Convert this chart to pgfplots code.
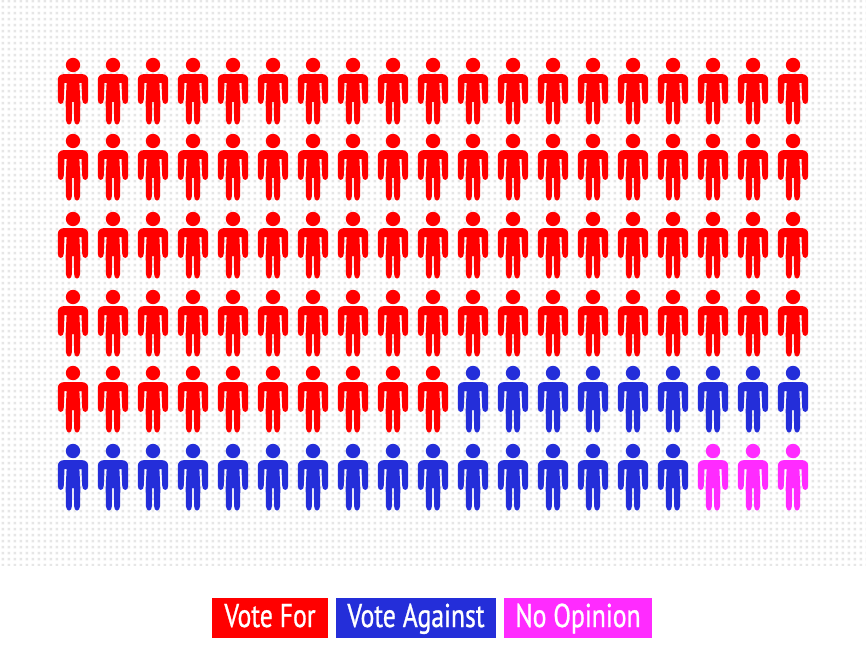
\documentclass[border=0pt]{standalone}
\usepackage{fontspec}
\setmainfont[FakeStretch=0.78,FakeBold=0.8]{PT Sans}
\usepackage{pgfplots}
\pgfplotsset{compat=1.18}
\usetikzlibrary{patterns}

\definecolor{VoteFor}{RGB}{255,0,0}
\definecolor{VoteAgainst}{RGB}{36,46,217}
\definecolor{NoOpinion}{RGB}{255,43,255}
\definecolor{DotGrey}{RGB}{230,230,230}

% background dots, 5.9px lattice
\pgfdeclarepatternformonly{bgdots}{\pgfqpoint{0pt}{0pt}}{\pgfqpoint{5.9pt}{5.9pt}}{\pgfqpoint{5.9pt}{5.9pt}}{
  \pgfpathrectangle{\pgfqpoint{1.7pt}{1.7pt}}{\pgfqpoint{2.5pt}{2.5pt}}
  \pgfusepathqfill
}

% pictogram person, origin at the centre of the head
\newcommand{\pp}[2]{\pgfqpoint{#1pt}{#2pt}}
\newcommand{\personhalf}{%
  \pgfpathmoveto{\pp{-0.3}{-9.2}}
  \pgfpathlineto{\pp{9.5}{-9.2}}
  \pgfpathcurveto{\pp{13}{-9.2}}{\pp{15.2}{-11.8}}{\pp{15.2}{-15}}
  \pgfpathlineto{\pp{15.2}{-34.5}}
  \pgfpathcurveto{\pp{15.2}{-37.5}}{\pp{14}{-39}}{\pp{12.2}{-39}}
  \pgfpathcurveto{\pp{10.2}{-39}}{\pp{9.3}{-37}}{\pp{9.2}{-34.5}}
  \pgfpathlineto{\pp{8.5}{-18}}
  \pgfpathlineto{\pp{6.4}{-18}}
  \pgfpathlineto{\pp{7.3}{-37}}
  \pgfpathlineto{\pp{7.1}{-55}}
  \pgfpathcurveto{\pp{6.9}{-58}}{\pp{5.5}{-59.6}}{\pp{4}{-59.6}}
  \pgfpathcurveto{\pp{2.2}{-59.6}}{\pp{1.2}{-57.7}}{\pp{1.1}{-55}}
  \pgfpathlineto{\pp{0.8}{-37}}
  \pgfpathlineto{\pp{-0.3}{-37}}
  \pgfpathclose
  \pgfusepathqfill
}
\pgfdeclareplotmark{person}{%
  \pgfpathcircle{\pgfpointorigin}{7.2pt}
  \pgfusepathqfill
  \personhalf
  \pgfscope
    \pgftransformxscale{-1}
    \personhalf
  \endpgfscope
}

\pgfplotsset{
  people/.style={only marks, mark=person, mark options={draw=none, fill=#1}}
}
\tikzset{
  key/.style={fill=#1, text=white, inner sep=0pt, text height=29pt, text depth=11pt,
    font=\fontsize{33}{33}\selectfont}
}

\begin{document}
\begin{tikzpicture}
\begin{axis}[
    scale only axis,
    width=866pt,
    height=668pt,
    xmin=0, xmax=866,
    ymin=0, ymax=668,
    y dir=reverse,
    hide axis,
    clip=false
]
\fill[white] (axis cs:0,0) rectangle (axis cs:866,668);
\fill[pattern=bgdots, pattern color=DotGrey] (axis cs:0,0) rectangle (axis cs:866,565);

\addplot[people=VoteFor] coordinates {
  (73,65) (113,65) (153,65) (193,65) (233,65) (273,65) (313,65) (353,65) (393,65) (433,65)
  (473,65) (513,65) (553,65) (593,65) (633,65) (673,65) (713,65) (753,65) (793,65)
  (73,141) (113,141) (153,141) (193,141) (233,141) (273,141) (313,141) (353,141) (393,141) (433,141)
  (473,141) (513,141) (553,141) (593,141) (633,141) (673,141) (713,141) (753,141) (793,141)
  (73,219) (113,219) (153,219) (193,219) (233,219) (273,219) (313,219) (353,219) (393,219) (433,219)
  (473,219) (513,219) (553,219) (593,219) (633,219) (673,219) (713,219) (753,219) (793,219)
  (73,297) (113,297) (153,297) (193,297) (233,297) (273,297) (313,297) (353,297) (393,297) (433,297)
  (473,297) (513,297) (553,297) (593,297) (633,297) (673,297) (713,297) (753,297) (793,297)
  (73,373) (113,373) (153,373) (193,373) (233,373) (273,373) (313,373) (353,373) (393,373) (433,373)
};
\addplot[people=VoteAgainst] coordinates {
  (473,373) (513,373) (553,373) (593,373) (633,373) (673,373) (713,373) (753,373) (793,373)
  (73,451) (113,451) (153,451) (193,451) (233,451) (273,451) (313,451) (353,451) (393,451) (433,451)
  (473,451) (513,451) (553,451) (593,451) (633,451) (673,451)
};
\addplot[people=NoOpinion] coordinates {
  (713,451) (753,451) (793,451)
};

\node[key=VoteFor, minimum width=116pt] at (axis cs:270,618) {Vote For};
\node[key=VoteAgainst, minimum width=160pt] at (axis cs:416,618) {Vote Against};
\node[key=NoOpinion, minimum width=148pt] at (axis cs:578,618) {No Opinion};
\end{axis}
\end{tikzpicture}
\end{document}
